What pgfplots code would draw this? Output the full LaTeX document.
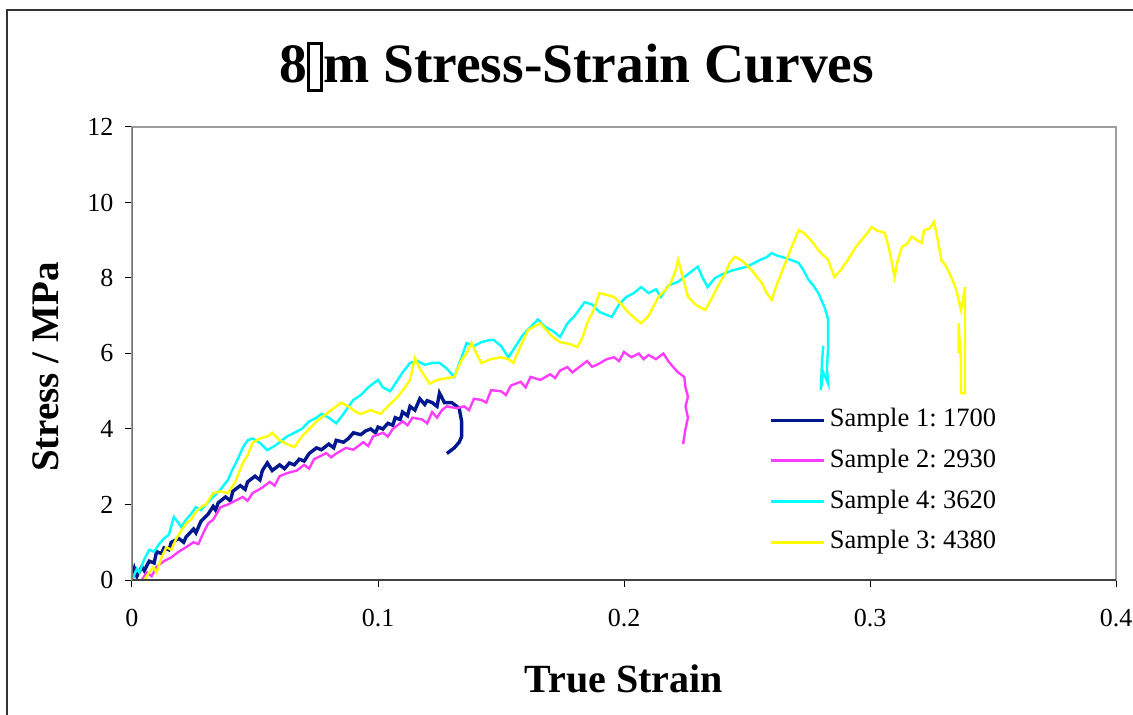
\documentclass[border=0pt]{standalone}
\usepackage{pgfplots}
\pgfplotsset{compat=1.18}
\usepackage{fontspec}
\setmainfont{Liberation Serif}
\definecolor{sOne}{RGB}{0,24,143}
\definecolor{sTwo}{RGB}{255,60,255}
\definecolor{sFour}{RGB}{0,255,255}
\definecolor{sThree}{RGB}{255,255,0}
\begin{document}
\frenchspacing
\begin{tikzpicture}
\begin{axis}[
  at={(0,0)}, anchor=south west,
  scale only axis, width=984bp, height=453bp,
  xmin=0, xmax=0.4, ymin=0, ymax=12,
  xtick={0,0.1,0.2,0.3,0.4}, ytick={0,2,4,6,8,10,12},
  xticklabels={0,0.1,0.2,0.3,0.4},
  xtick pos=left, ytick pos=left, tick align=outside,
  major tick length=7bp,
  every tick/.style={black, line width=1bp},
  axis line style={draw=black!38, line width=2.2bp},
  /pgf/number format/assume math mode=true,
  tick label style={font=\fontsize{26bp}{30bp}\selectfont},
  yticklabel style={xshift=-8bp},
  xticklabel style={yshift=-19bp},
  title={\textbf{8\raisebox{-7bp}{\setlength{\fboxrule}{3bp}\setlength{\fboxsep}{0pt}\fbox{\rule{0pt}{44bp}\rule{10bp}{0pt}}}m Stress-Strain Curves}},
  title style={at={(0.452,1.086)}, anchor=base, font=\fontsize{55.5bp}{60bp}\selectfont},
  xlabel={\textbf{True Strain}},
  xlabel style={at={(0.5,-0.249)}, anchor=base, font=\fontsize{40bp}{46bp}\selectfont},
  ylabel={\textbf{Stress / MPa}},
  ylabel style={at={(-0.088,0.47)}, anchor=center, font=\fontsize{39bp}{46bp}\selectfont},
  legend style={at={(0.645,0.387)}, anchor=north west, draw=none, fill=none,
    font=\fontsize{26.5bp}{30bp}\selectfont, row sep=13.6bp,
    nodes={inner sep=0pt, text height=20bp, text depth=7bp},
    /tikz/every odd column/.append style={column sep=4bp}},
  legend cell align=left,
  legend image code/.code={\draw[#1,line width=3bp] (0bp,0bp) -- (53bp,0bp);},
]
\addplot[sOne, line width=3.4bp] coordinates {
(0,0) (0.001,0.3) (0.002,0.1) (0.004,0.35) (0.005,0.25) (0.007,0.5) (0.009,0.45) (0.010,0.75) (0.012,0.7) (0.013,0.85) (0.015,0.8) (0.016,1.0) (0.019,1.1) (0.021,1.0) (0.022,1.14) (0.025,1.35) (0.026,1.25) (0.028,1.55) (0.031,1.75) (0.033,1.95) (0.034,1.85) (0.035,2.04) (0.038,2.2) (0.040,2.1) (0.041,2.35) (0.044,2.5) (0.046,2.4) (0.047,2.6) (0.050,2.75) (0.052,2.65) (0.053,2.9) (0.055,3.1) (0.057,2.9) (0.060,3.05) (0.062,2.95) (0.064,3.1) (0.066,3.05) (0.068,3.2) (0.070,3.15) (0.072,3.35) (0.075,3.5) (0.077,3.45) (0.080,3.6) (0.082,3.5) (0.083,3.7) (0.086,3.65) (0.088,3.75) (0.090,3.9) (0.093,3.85) (0.095,3.95) (0.097,4.0) (0.099,3.9) (0.100,4.05) (0.102,4.0) (0.104,4.15) (0.106,4.1) (0.107,4.3) (0.109,4.25) (0.110,4.45) (0.112,4.35) (0.113,4.6) (0.115,4.5) (0.117,4.8) (0.119,4.65) (0.120,4.75) (0.122,4.7) (0.124,4.6) (0.125,4.95) (0.127,4.7) (0.130,4.7) (0.133,4.55) (0.134,4.2) (0.134,3.8) (0.133,3.65) (0.131,3.5) (0.129,3.4) (0.128,3.35)
};
\addlegendentry{Sample 1: 1700}
\addplot[sTwo, line width=2.4bp] coordinates {
(0.004,0) (0.006,0.2) (0.008,0.1) (0.010,0.35) (0.013,0.5) (0.016,0.6) (0.019,0.75) (0.022,0.87) (0.025,1.0) (0.027,0.95) (0.029,1.25) (0.031,1.5) (0.033,1.6) (0.036,1.93) (0.039,2.0) (0.042,2.1) (0.045,2.2) (0.047,2.1) (0.049,2.3) (0.053,2.45) (0.056,2.6) (0.058,2.5) (0.060,2.75) (0.063,2.83) (0.067,2.9) (0.070,3.05) (0.072,2.95) (0.074,3.2) (0.079,3.36) (0.081,3.25) (0.083,3.35) (0.087,3.5) (0.090,3.45) (0.094,3.65) (0.096,3.55) (0.098,3.8) (0.102,3.9) (0.104,3.8) (0.106,4.0) (0.110,4.2) (0.112,4.1) (0.114,4.3) (0.118,4.25) (0.120,4.15) (0.122,4.45) (0.124,4.3) (0.126,4.5) (0.128,4.6) (0.132,4.55) (0.135,4.6) (0.137,4.5) (0.139,4.8) (0.142,4.77) (0.144,4.7) (0.146,5.03) (0.150,5.0) (0.152,4.9) (0.154,5.15) (0.158,5.25) (0.160,5.1) (0.162,5.38) (0.166,5.3) (0.170,5.45) (0.172,5.35) (0.174,5.55) (0.177,5.64) (0.179,5.5) (0.181,5.6) (0.185,5.8) (0.187,5.65) (0.189,5.7) (0.193,5.85) (0.196,5.9) (0.198,5.8) (0.200,6.04) (0.203,5.9) (0.206,6.0) (0.208,5.85) (0.210,5.96) (0.213,5.85) (0.216,6.0) (0.218,5.8) (0.220,5.64) (0.222,5.5) (0.2245,5.38) (0.225,5.1) (0.226,4.85) (0.225,4.6) (0.226,4.3) (0.225,4.0) (0.224,3.6)
};
\addlegendentry{Sample 2: 2930}
\addplot[sFour, line width=2.4bp] coordinates {
(0,0) (0.002,0.3) (0.003,0.2) (0.005,0.55) (0.007,0.8) (0.009,0.75) (0.011,0.95) (0.013,1.1) (0.015,1.2) (0.017,1.67) (0.019,1.5) (0.020,1.4) (0.022,1.6) (0.024,1.75) (0.026,1.93) (0.028,1.85) (0.030,2.0) (0.033,2.2) (0.036,2.4) (0.039,2.65) (0.041,2.95) (0.043,3.2) (0.045,3.5) (0.047,3.7) (0.049,3.75) (0.052,3.63) (0.055,3.44) (0.058,3.55) (0.061,3.7) (0.063,3.8) (0.066,3.9) (0.069,4.0) (0.072,4.2) (0.075,4.3) (0.077,4.4) (0.080,4.3) (0.083,4.15) (0.086,4.4) (0.088,4.6) (0.090,4.77) (0.093,4.9) (0.096,5.1) (0.098,5.2) (0.100,5.3) (0.102,5.1) (0.105,5.0) (0.108,5.3) (0.110,5.5) (0.113,5.75) (0.116,5.8) (0.119,5.7) (0.122,5.75) (0.125,5.75) (0.128,5.6) (0.131,5.38) (0.134,5.9) (0.136,6.28) (0.139,6.2) (0.142,6.3) (0.145,6.35) (0.147,6.36) (0.150,6.2) (0.153,5.9) (0.156,6.2) (0.159,6.5) (0.162,6.7) (0.165,6.9) (0.168,6.7) (0.171,6.6) (0.174,6.44) (0.177,6.8) (0.180,7.0) (0.184,7.36) (0.187,7.3) (0.190,7.1) (0.195,6.97) (0.198,7.3) (0.201,7.5) (0.204,7.6) (0.207,7.76) (0.210,7.6) (0.213,7.7) (0.215,7.5) (0.218,7.8) (0.222,7.9) (0.226,8.1) (0.230,8.3) (0.232,8.0) (0.234,7.76) (0.237,8.0) (0.240,8.1) (0.244,8.2) (0.247,8.25) (0.250,8.3) (0.253,8.4) (0.256,8.5) (0.258,8.55) (0.260,8.66) (0.262,8.6) (0.264,8.56) (0.267,8.5) (0.269,8.45) (0.271,8.4) (0.273,8.2) (0.275,7.95) (0.277,7.8) (0.279,7.6) (0.2815,7.23) (0.283,6.9) (0.283,6.2) (0.2825,5.6) (0.283,5.2) (0.281,5.5) (0.280,5.03) (0.2805,5.8) (0.281,6.2)
};
\addlegendentry{Sample 4: 3620}
\addplot[sThree, line width=2.4bp] coordinates {
(0.005,0) (0.007,0.2) (0.0086,0.34) (0.010,0.2) (0.012,0.6) (0.014,0.87) (0.016,0.8) (0.018,1.1) (0.020,1.3) (0.022,1.5) (0.024,1.6) (0.026,1.8) (0.028,1.93) (0.030,2.0) (0.033,2.3) (0.036,2.35) (0.039,2.3) (0.042,2.6) (0.045,3.1) (0.047,3.3) (0.049,3.63) (0.052,3.75) (0.055,3.8) (0.057,3.9) (0.060,3.7) (0.063,3.6) (0.066,3.52) (0.069,3.8) (0.072,4.0) (0.075,4.2) (0.079,4.4) (0.082,4.55) (0.085,4.7) (0.088,4.6) (0.091,4.45) (0.093,4.4) (0.097,4.5) (0.101,4.4) (0.104,4.6) (0.108,4.85) (0.111,5.1) (0.113,5.3) (0.115,5.88) (0.117,5.6) (0.119,5.4) (0.121,5.2) (0.124,5.3) (0.128,5.35) (0.131,5.38) (0.134,5.83) (0.136,6.0) (0.138,6.28) (0.140,6.0) (0.142,5.75) (0.146,5.85) (0.150,5.9) (0.153,5.85) (0.155,5.75) (0.158,6.2) (0.161,6.62) (0.163,6.7) (0.166,6.8) (0.168,6.65) (0.171,6.44) (0.174,6.3) (0.178,6.25) (0.181,6.17) (0.183,6.4) (0.185,6.8) (0.188,7.2) (0.190,7.6) (0.193,7.55) (0.196,7.5) (0.199,7.3) (0.202,7.07) (0.205,6.9) (0.207,6.8) (0.210,7.0) (0.214,7.5) (0.217,7.7) (0.219,7.87) (0.221,8.2) (0.222,8.48) (0.224,8.0) (0.226,7.5) (0.229,7.3) (0.233,7.15) (0.236,7.5) (0.238,7.76) (0.241,8.1) (0.243,8.4) (0.245,8.56) (0.247,8.5) (0.249,8.4) (0.252,8.2) (0.256,7.87) (0.258,7.6) (0.260,7.42) (0.262,7.8) (0.265,8.3) (0.268,8.8) (0.271,9.27) (0.273,9.2) (0.276,9.0) (0.279,8.74) (0.281,8.6) (0.283,8.48) (0.2855,8.03) (0.288,8.2) (0.291,8.48) (0.294,8.8) (0.2965,9.0) (0.299,9.2) (0.3006,9.35) (0.303,9.25) (0.306,9.2) (0.308,8.7) (0.310,8.03) (0.311,8.4) (0.313,8.83) (0.315,8.9) (0.317,9.1) (0.319,9.0) (0.321,8.93) (0.322,9.27) (0.324,9.3) (0.326,9.48) (0.327,9.2) (0.329,8.48) (0.331,8.3) (0.333,8.03) (0.335,7.7) (0.336,7.42) (0.337,7.15) (0.3386,7.76) (0.3386,6.0) (0.3386,4.95) (0.337,4.95) (0.337,5.75) (0.336,6.8) (0.336,6.0)
};
\addlegendentry{Sample 3: 4380}
\draw[black!75, line width=2.2bp] (rel axis cs:0,0) -- (rel axis cs:1,0);
\draw[black!55, line width=2.2bp] (rel axis cs:0,0) -- (rel axis cs:0,1);
\end{axis}
\draw[black!80, line width=2bp] (-125bp,-140bp) -- (-125bp,570bp) -- (1010bp,570bp);
\pgfresetboundingbox
\path[use as bounding box] (-132bp,-135bp) rectangle (1001bp,580bp);
\end{tikzpicture}
\end{document}
